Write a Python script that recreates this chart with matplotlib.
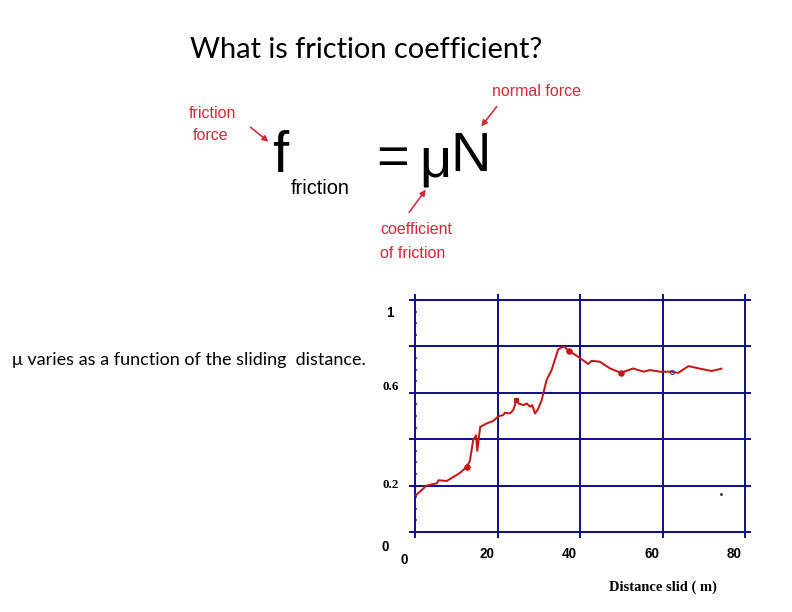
import matplotlib.pyplot as plt
from matplotlib.patches import FancyArrowPatch
from matplotlib.ticker import MultipleLocator

# friction coefficient vs distance slid
dist = [0.2, 2.8, 5.3, 5.7, 7.7, 9.3, 10.9, 12.5, 13.3, 14.1, 14.8, 15.1, 15.8,
        17.4, 19.0, 20.2, 21.4, 21.8, 23.0, 23.8, 24.6, 25.1, 26.3, 27.1, 27.9,
        28.4, 29.1, 29.9, 30.7, 31.1, 31.9, 33.1, 33.9, 34.7, 35.6, 36.1, 37.4,
        39.6, 42.0, 42.8, 44.8, 47.3, 49.9, 52.9, 55.4, 57.0, 59.4, 62.2, 63.8,
        66.3, 69.1, 71.9, 74.3]
mu = [0.158, 0.200, 0.210, 0.223, 0.220, 0.237, 0.255, 0.280, 0.306, 0.396,
      0.417, 0.350, 0.453, 0.468, 0.479, 0.499, 0.504, 0.514, 0.511, 0.525,
      0.568, 0.554, 0.547, 0.554, 0.540, 0.547, 0.511, 0.532, 0.568, 0.597,
      0.655, 0.698, 0.741, 0.787, 0.796, 0.799, 0.780, 0.755, 0.724, 0.738,
      0.734, 0.705, 0.686, 0.705, 0.691, 0.698, 0.691, 0.691, 0.686, 0.715,
      0.704, 0.694, 0.704]

red_pts_x = [12.5, 37.4, 49.9]
red_pts_y = [0.280, 0.780, 0.686]
sq_x, sq_y = [24.6], [0.568]
open_x, open_y = [62.2], [0.691]
stray_x, stray_y = [74.2], [0.163]

xticks = [0, 20, 40, 60, 80]
yticks = [0, 0.2, 0.4, 0.6, 0.8, 1.0]
# labels as they sit on the slide (label, y position)
ylabels = [('1', 0.944), ('0.6', 0.625), ('0.2', 0.203)]

W, H = 792, 612
fig = plt.figure(figsize=(W / 72, H / 72), dpi=72)


def fp(x, y):
    return x / W, 1 - y / H


navy = '#12128e'
curve_red = '#c41616'
label_red = '#d12a3a'
eq_font = 'Liberation Sans'

# slide text
fig.text(*fp(366, 50), 'What is friction coefficient?', ha='center', va='center',
         fontsize=29, family='Lato')
fig.text(*fp(12, 360), '\u03bc varies as a function of the sliding  distance.',
         ha='left', va='center', fontsize=18, family='Lato')

# the equation picture
fig.text(*fp(272, 157), 'f', ha='left', va='center', fontsize=58, family=eq_font)
fig.text(*fp(291, 189), 'friction', ha='left', va='center', fontsize=20,
         family=eq_font)
fig.text(*fp(376, 160), '=', ha='left', va='center', fontsize=56, family=eq_font)
fig.text(*fp(419, 163), '\u03bc', ha='left', va='center', fontsize=56,
         family=eq_font)
fig.text(*fp(450, 157), 'N', ha='left', va='center', fontsize=56, family=eq_font)

red_labels = [('friction', 189, 113), ('force', 193, 136), ('normal force', 492, 91),
              ('coefficient', 380, 230), ('of friction', 380, 253)]
for txt, x, y in red_labels:
    fig.text(*fp(x, y), txt, ha='left', va='center', fontsize=16, family=eq_font,
             color=label_red)

arrows = [((249, 126), (270, 143)), ((498, 105), (480, 128)),
          ((408, 214), (427, 188))]
for (x0, y0), (x1, y1) in arrows:
    fig.add_artist(FancyArrowPatch(fp(x0, y0), fp(x1, y1),
                                   transform=fig.transFigure,
                                   arrowstyle='-|>', color=label_red, lw=1.6,
                                   mutation_scale=12))

# the chart
ax = fig.add_axes([415 / W, 1 - 532 / H, 330 / W, 232 / H])
ax.plot(dist, mu, color=curve_red, lw=2, zorder=3)
ax.plot(red_pts_x, red_pts_y, 'o', color=curve_red, ms=5.5, zorder=4)
ax.plot(sq_x, sq_y, 's', color=curve_red, ms=4, zorder=4)
ax.plot(open_x, open_y, 'o', mfc='none', mec='#3030a0', ms=4, mew=1, zorder=4)
ax.plot(stray_x, stray_y, 's', color='#222222', ms=1.5)

ax.set_xlim(0, 80)
ax.set_ylim(0, 1)
ax.set_xticks(xticks)
ax.set_yticks(yticks)
ax.yaxis.set_minor_locator(MultipleLocator(0.05))
ax.grid(True, color=navy, lw=2)
for gl in ax.get_xgridlines() + ax.get_ygridlines():
    gl.set_clip_on(False)
ax.tick_params(which='major', direction='out', length=6, width=2, color=navy,
               top=True, right=True, labelbottom=False, labelleft=False)
ax.tick_params(which='minor', axis='y', direction='in', length=1.5, width=1.5,
               color=navy, left=True, right=True)
for s in ax.spines.values():
    s.set_visible(False)

for t in xticks:
    ax.text(t - 2.6, -0.095 if t else -0.12, str(t), ha='center', va='center',
            fontsize=13.5, family='Liberation Sans', fontweight='bold')
ax.text(-7.3, -0.065, '0', ha='center', va='center', fontsize=13.5,
        family='Liberation Sans', fontweight='bold')
for lab, ypos in ylabels:
    serif = lab != '1'
    ax.text(-5.8 if serif else -6.2, ypos, lab, ha='center', va='center',
            fontsize=13 if serif else 13.5,
            family='Liberation Serif' if serif else 'Liberation Sans',
            fontweight='bold')
ax.text(60, -0.24, 'Distance slid ( m)', ha='center', va='center', fontsize=14.5,
        family='Liberation Serif', fontweight='bold')

fig.savefig('out.png', dpi=72)
